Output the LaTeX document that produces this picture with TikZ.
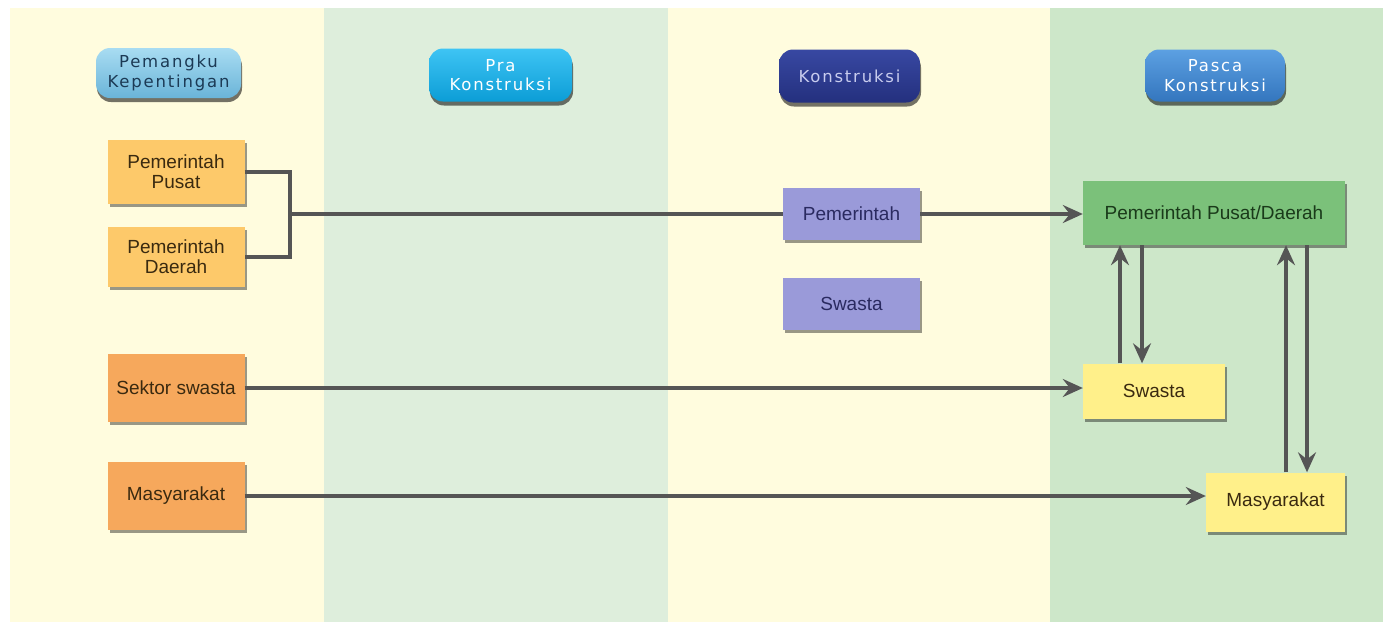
\documentclass[tikz,border=0pt]{standalone}
\usepackage{fontspec}
\setmainfont{Liberation Sans}
\newfontfamily\hdrfont[LetterSpace=11]{DejaVu Sans}
\usetikzlibrary{shadows,arrows.meta}

% column backgrounds
\definecolor{colcream}{HTML}{FFFCDE}
\definecolor{colmint}{HTML}{DEEEDC}
\definecolor{colgreen}{HTML}{CDE7C9}
% header pills
\definecolor{stakeTop}{HTML}{A8DCF2}
\definecolor{stakeBot}{HTML}{6AB4D8}
\definecolor{praTop}{HTML}{3EC4F4}
\definecolor{praBot}{HTML}{0C9DD6}
\definecolor{konTop}{HTML}{3848A2}
\definecolor{konBot}{HTML}{24307E}
\definecolor{pascaTop}{HTML}{5CA0E2}
\definecolor{pascaBot}{HTML}{3476BE}
% box fills
\definecolor{boxgold}{HTML}{FDC96A}
\definecolor{boxorange}{HTML}{F6A85C}
\definecolor{boxpurple}{HTML}{9A9AD9}
\definecolor{boxgreen}{HTML}{7BC17A}
\definecolor{boxyellow}{HTML}{FFF08A}
% text colours
\definecolor{txtbrown}{HTML}{3A2A10}
\definecolor{txtnavy}{HTML}{2A2A60}
\definecolor{txtgreen}{HTML}{1A3A1A}
\definecolor{txtstake}{HTML}{1C3A55}
\definecolor{txtkon}{HTML}{C8CCEE}
% connectors
\definecolor{linec}{HTML}{555555}

\begin{document}
\begin{tikzpicture}[x=1pt,y=-1pt,
  box/.style={rectangle, inner sep=0pt, align=center,
    font=\fontsize{19}{20}\selectfont,
    drop shadow={shadow xshift=2pt,shadow yshift=-3pt,fill=black,opacity=.4}},
  pill/.style={rectangle, rounded corners=14pt, inner sep=0pt, align=center,
    font=\hdrfont\fontsize{16.5}{19.5}\selectfont,
    drop shadow={shadow xshift=1pt,shadow yshift=-4pt,fill=black,opacity=.55}},
  link/.style={draw=linec, line width=3.5pt},
  arr/.style={link, -{Stealth[length=20pt,width=18pt,inset=7pt]}},
]
\useasboundingbox (0,0) rectangle (1383,622);
\fill[white] (0,0) rectangle (1383,622);

% phase columns
\fill[colcream] (10,8) rectangle (324,622);
\fill[colmint]  (324,8) rectangle (668,622);
\fill[colcream] (668,8) rectangle (1050,622);
\fill[colgreen] (1050,8) rectangle (1383,622);

% column headers
\node[pill, minimum width=145pt, minimum height=50pt,
      top color=stakeTop, bottom color=stakeBot, text=txtstake]
  (hstake) at (168.5,73) {Pemangku\\Kepentingan};
\node[pill, minimum width=143pt, minimum height=53pt,
      top color=praTop, bottom color=praBot, text=white]
  (hpra) at (500.5,75) {Pra\\Konstruksi};
\node[pill, minimum width=141pt, minimum height=53pt,
      top color=konTop, bottom color=konBot, text=txtkon]
  (hkon) at (849.5,76) {Konstruksi};
\node[pill, minimum width=140pt, minimum height=52pt,
      top color=pascaTop, bottom color=pascaBot, text=white]
  (hpasca) at (1215,75.5) {Pasca\\Konstruksi};

% stakeholders
\node[box, fill=boxgold, text=txtbrown, minimum width=137pt, minimum height=64pt]
  (pp) at (176,172) {Pemerintah\\Pusat};
\node[box, fill=boxgold, text=txtbrown, minimum width=137pt, minimum height=60pt]
  (pd) at (176,257) {Pemerintah\\Daerah};
\node[box, fill=boxorange, text=txtbrown, minimum width=137pt, minimum height=68pt]
  (ss) at (176,388) {Sektor swasta};
\node[box, fill=boxorange, text=txtbrown, minimum width=137pt, minimum height=68pt]
  (ms) at (176,496) {Masyarakat};

% construction phase
\node[box, fill=boxpurple, text=txtnavy, minimum width=137pt, minimum height=52pt]
  (kp) at (851.5,214) {Pemerintah};
\node[box, fill=boxpurple, text=txtnavy, minimum width=137pt, minimum height=52pt]
  (ks) at (851.5,304) {Swasta};

% post-construction phase
\node[box, fill=boxgreen, text=txtgreen, minimum width=262pt, minimum height=64pt]
  (gpd) at (1214,213) {Pemerintah Pusat/Daerah};
\node[box, fill=boxyellow, text=txtbrown, minimum width=142pt, minimum height=55pt]
  (ysw) at (1154,391) {Swasta};
\node[box, fill=boxyellow, text=txtbrown, minimum width=139pt, minimum height=59pt]
  (yms) at (1275.5,502) {Masyarakat};

% government bracket joining both levels
\coordinate (br) at (290,214);
\draw[link, line join=miter] (pp.east) -| (br) |- (pd.east);
\draw[link] (br) -- (kp.west);
\draw[arr] (kp.east) -- (kp.east -| gpd.west);

% private sector and community
\draw[arr] (ss.east) -- (ss.east -| ysw.west);
\draw[arr] (ms.east) -- (ms.east -| yms.west);

% feedback between post-construction actors
\coordinate (v1) at (1120,0);
\coordinate (v2) at (1142,0);
\coordinate (v3) at (1286,0);
\coordinate (v4) at (1307,0);
\draw[arr] (v1 |- ysw.north) -- (v1 |- gpd.south);
\draw[arr] (v2 |- gpd.south) -- (v2 |- ysw.north);
\draw[arr] (v3 |- yms.north) -- (v3 |- gpd.south);
\draw[arr] (v4 |- gpd.south) -- (v4 |- yms.north);
\end{tikzpicture}
\end{document}
